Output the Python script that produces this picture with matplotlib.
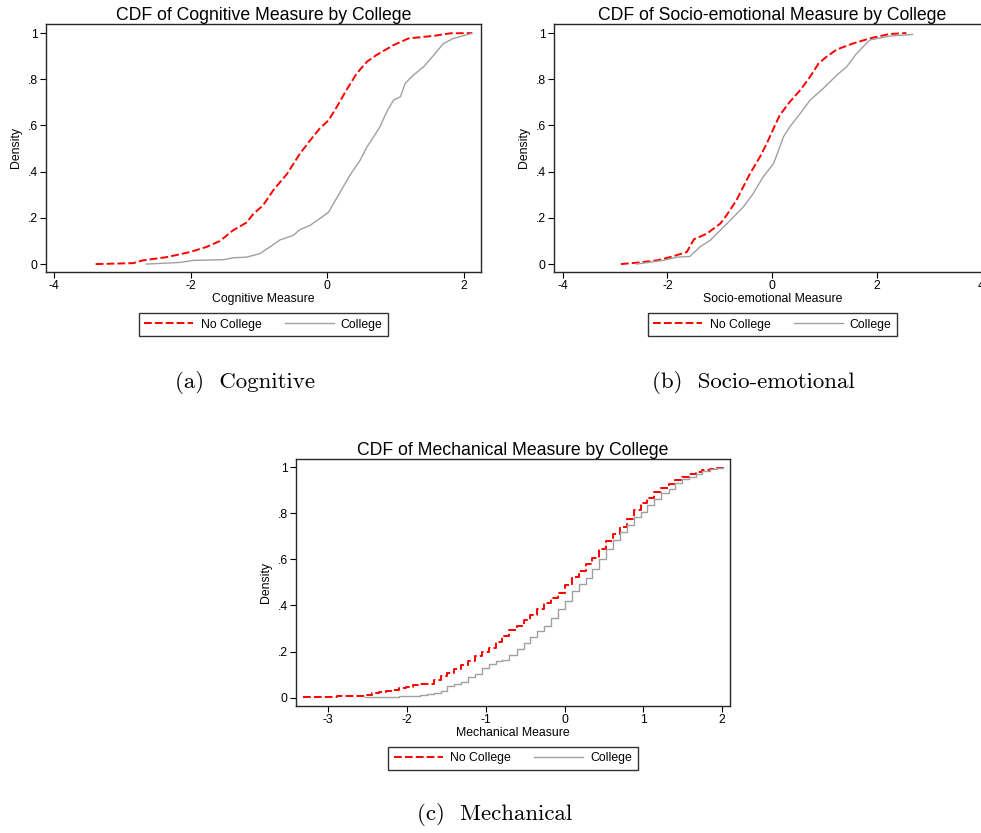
import matplotlib
matplotlib.use("Agg")
import matplotlib.pyplot as plt

plt.rcParams['font.family'] = ['Liberation Sans', 'DejaVu Sans']

# ---------------- Data ----------------
# Cognitive
cog_nc_x = [-3.39, -2.84, -2.70, -2.35, -2.01, -1.77, -1.57, -1.38, -1.18, -1.08, -0.94, -0.79,
            -0.59, -0.40, -0.25, -0.11, 0.02, 0.14, 0.28, 0.43, 0.58, 0.72, 0.97, 1.19, 1.56, 1.80, 2.12]
cog_nc_y = [0.0, 0.004, 0.016, 0.03, 0.052, 0.074, 0.10, 0.146, 0.18, 0.218, 0.254, 0.32,
            0.39, 0.478, 0.536, 0.587, 0.623, 0.681, 0.753, 0.825, 0.876, 0.905, 0.948, 0.977, 0.988, 0.999, 1.0]
cog_c_x = [-2.65, -2.16, -1.96, -1.52, -1.38, -1.18, -0.99, -0.84, -0.69, -0.50, -0.40, -0.25, -0.11,
           0.02, 0.09, 0.19, 0.33, 0.48, 0.58, 0.68, 0.77, 0.87, 0.97, 1.07, 1.14, 1.26, 1.41, 1.56,
           1.70, 1.85, 2.12]
cog_c_y = [0.0, 0.007, 0.016, 0.019, 0.027, 0.03, 0.045, 0.074, 0.105, 0.124, 0.149, 0.168, 0.197,
           0.225, 0.262, 0.312, 0.384, 0.449, 0.507, 0.551, 0.594, 0.659, 0.71, 0.724, 0.782, 0.818,
           0.854, 0.905, 0.955, 0.977, 0.999]

# Socio-emotional
soc_nc_x = [-2.89, -2.59, -2.20, -1.95, -1.63, -1.49, -1.25, -0.99, -0.87, -0.68, -0.55, -0.42, -0.23,
            -0.10, 0.03, 0.15, 0.34, 0.54, 0.73, 0.89, 1.04, 1.24, 1.55, 1.87, 2.25, 2.57]
soc_nc_y = [0.0, 0.006, 0.016, 0.03, 0.052, 0.108, 0.131, 0.175, 0.211, 0.276, 0.334, 0.392, 0.464,
            0.522, 0.587, 0.645, 0.702, 0.753, 0.811, 0.868, 0.897, 0.929, 0.955, 0.977, 0.996, 1.0]
soc_c_x = [-2.59, -2.08, -1.82, -1.57, -1.38, -1.18, -0.99, -0.80, -0.55, -0.36, -0.17, 0.03, 0.15,
           0.22, 0.34, 0.54, 0.73, 0.98, 1.24, 1.43, 1.62, 1.87, 2.25, 2.69]
soc_c_y = [0.0, 0.016, 0.03, 0.033, 0.074, 0.103, 0.146, 0.189, 0.247, 0.305, 0.377, 0.435, 0.507,
           0.551, 0.594, 0.652, 0.71, 0.76, 0.818, 0.854, 0.912, 0.97, 0.987, 0.994]

# Mechanical (discrete values -> step CDF)
mech_nc_x = [-3.32, -3.24, -3.15, -3.06, -2.97, -2.89, -2.80, -2.71, -2.62, -2.54, -2.45, -2.36,
             -2.27, -2.19, -2.10, -2.01, -1.92, -1.84, -1.75, -1.66, -1.57, -1.49, -1.40, -1.31,
             -1.22, -1.14, -1.05, -0.96, -0.87, -0.79, -0.70, -0.61, -0.52, -0.44, -0.35, -0.26,
             -0.17, -0.09, 0.00, 0.09, 0.18, 0.27, 0.35, 0.44, 0.53, 0.62, 0.70, 0.79, 0.88, 0.97,
             1.05, 1.14, 1.23, 1.32, 1.40, 1.49, 1.58, 1.67, 1.75, 1.84, 1.93, 2.01]
mech_nc_y = [0.001, 0.003, 0.004, 0.004, 0.004, 0.005, 0.005, 0.006, 0.008, 0.011, 0.018, 0.024,
             0.028, 0.034, 0.040, 0.046, 0.053, 0.057, 0.059, 0.075, 0.093, 0.108, 0.126, 0.143,
             0.160, 0.180, 0.197, 0.215, 0.240, 0.267, 0.292, 0.312, 0.338, 0.359, 0.384, 0.410,
             0.433, 0.455, 0.490, 0.524, 0.550, 0.580, 0.605, 0.645, 0.680, 0.710, 0.740, 0.775,
             0.812, 0.843, 0.868, 0.893, 0.911, 0.925, 0.943, 0.958, 0.971, 0.980, 0.987, 0.992,
             0.997, 1.0]
mech_c_x = [-2.54, -2.45, -2.36, -2.27, -2.19, -2.10, -2.01, -1.92, -1.84, -1.75, -1.66, -1.57,
            -1.49, -1.40, -1.31, -1.22, -1.14, -1.05, -0.96, -0.87, -0.79, -0.70, -0.61, -0.52,
            -0.44, -0.35, -0.26, -0.17, -0.09, 0.00, 0.09, 0.18, 0.27, 0.35, 0.44, 0.53, 0.62,
            0.70, 0.79, 0.88, 0.97, 1.05, 1.14, 1.23, 1.32, 1.40, 1.49, 1.58, 1.67, 1.75, 1.84,
            1.93, 2.01]
mech_c_y = [0.001, 0.001, 0.002, 0.002, 0.003, 0.005, 0.007, 0.009, 0.012, 0.016, 0.021, 0.027,
            0.050, 0.058, 0.068, 0.088, 0.104, 0.128, 0.146, 0.158, 0.165, 0.183, 0.212, 0.238,
            0.263, 0.287, 0.312, 0.345, 0.385, 0.420, 0.462, 0.495, 0.520, 0.558, 0.600, 0.645,
            0.682, 0.718, 0.750, 0.782, 0.806, 0.835, 0.862, 0.888, 0.906, 0.932, 0.948, 0.958,
            0.972, 0.982, 0.990, 0.996, 1.0]

yticks = [0, 0.2, 0.4, 0.6, 0.8, 1.0]
ytick_labels = ['0', '.2', '.4', '.6', '.8', '1']
series_labels = ['No College', 'College']

RED = '#ff0000'
GRAY = '#a0a0a0'
SPINE = '#262626'

fig = plt.figure(figsize=(9.81, 8.33), dpi=100)


def style_axes(ax, xlim, ylim, xticks, xlabel, title):
    ax.set_xlim(*xlim)
    ax.set_ylim(*ylim)
    ax.set_xticks(xticks)
    ax.set_xticklabels(['%g' % t for t in xticks])
    ax.set_yticks(yticks)
    ax.set_yticklabels(ytick_labels)
    ax.tick_params(direction='out', length=4, width=0.8, colors='black', labelsize=8.7, pad=2)
    ax.tick_params(axis='both', which='both', top=False, right=False)
    for s in ax.spines.values():
        s.set_color(SPINE)
        s.set_linewidth(1.0)
    ax.set_xlabel(xlabel, fontsize=8.8, labelpad=1)
    ax.set_ylabel('Density', fontsize=8.8, labelpad=4)
    ax.set_title(title, fontsize=12.7, pad=3)


def add_legend(ax, lines):
    leg = ax.legend(lines, series_labels, loc='center', bbox_to_anchor=(0.5, -0.214),
                    ncol=2, fontsize=8.8, frameon=True, fancybox=False, handlelength=4.0,
                    handletextpad=0.6, columnspacing=1.9, borderpad=0.45, borderaxespad=0)
    leg.get_frame().set_edgecolor('black')
    leg.get_frame().set_linewidth(1.0)


# Panel (a)
ax1 = fig.add_axes([46 / 981, 1 - 271.7 / 833, 435 / 981, 247.4 / 833])
l1, = ax1.plot(cog_nc_x, cog_nc_y, color=RED, lw=1.4, dashes=(4, 1.6))
l2, = ax1.plot(cog_c_x, cog_c_y, color=GRAY, lw=1.0)
style_axes(ax1, (-4.117, 2.25), (-0.033, 1.038), [-4, -2, 0, 2], 'Cognitive Measure',
           'CDF of Cognitive Measure by College')
add_legend(ax1, [l1, l2])

# Panel (b)
ax2 = fig.add_axes([554 / 981, 1 - 271.7 / 833, 437 / 981, 247.4 / 833])
l1, = ax2.plot(soc_nc_x, soc_nc_y, color=RED, lw=1.4, dashes=(4, 1.6))
l2, = ax2.plot(soc_c_x, soc_c_y, color=GRAY, lw=1.0)
style_axes(ax2, (-4.17, 4.19), (-0.033, 1.038), [-4, -2, 0, 2, 4], 'Socio-emotional Measure',
           'CDF of Socio-emotional Measure by College')
add_legend(ax2, [l1, l2])

# Panel (c)
ax3 = fig.add_axes([296 / 981, 1 - 705.7 / 833, 434 / 981, 246.7 / 833])
l1, = ax3.plot(mech_nc_x, mech_nc_y, color=RED, lw=1.4, dashes=(4, 1.6), drawstyle='steps-post')
l2, = ax3.plot(mech_c_x, mech_c_y, color=GRAY, lw=1.0, drawstyle='steps-post')
style_axes(ax3, (-3.41, 2.10), (-0.035, 1.035), [-3, -2, -1, 0, 1, 2], 'Mechanical Measure',
           'CDF of Mechanical Measure by College')
add_legend(ax3, [l1, l2])

# Sub-captions
cap_kw = dict(fontsize=16.5, family=['cmr10', 'DejaVu Serif'], ha='center', va='center')
fig.text(245 / 981, 1 - 382 / 833, '(a)  Cognitive', **cap_kw)
fig.text(753 / 981, 1 - 382 / 833, '(b)  Socio-emotional', **cap_kw)
fig.text(495 / 981, 1 - 815 / 833, '(c)  Mechanical', **cap_kw)

fig.savefig('out.png', dpi=100)
